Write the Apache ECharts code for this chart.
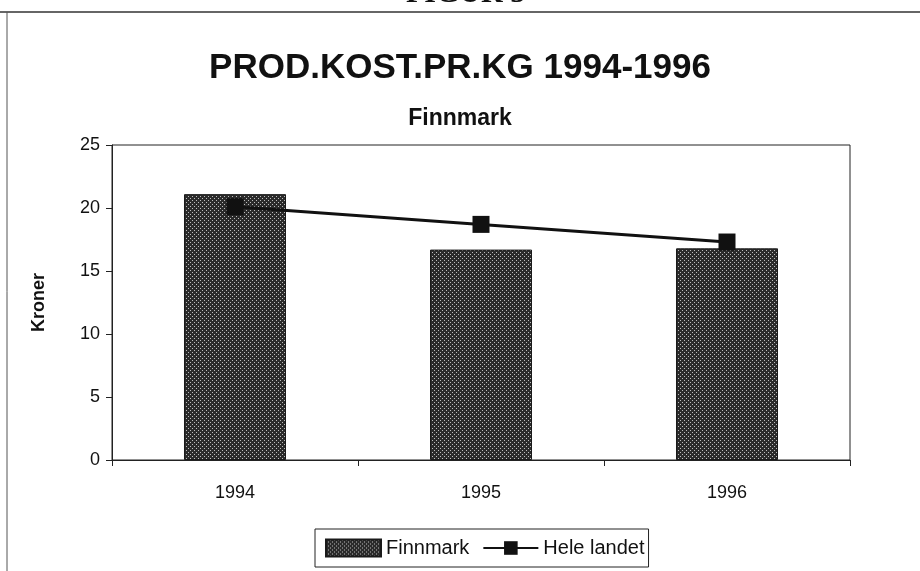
<!DOCTYPE html>
<html>
<head>
<meta charset="utf-8">
<script src="https://cdn.jsdelivr.net/npm/echarts@6/dist/echarts.min.js"></script>
<style>
  html, body { margin: 0; padding: 0; background: #fff; }
  #chart { width: 920px; height: 571px; }
</style>
</head>
<body>
<div id="chart"></div>
<script>
// data
var years = ["1994", "1995", "1996"];
var finnmark = [21.1, 16.7, 16.8];
var heleLandet = [20.1, 18.7, 17.3];
var yTicks = [0, 5, 10, 15, 20, 25];

// dotted dark fill like the scanned bars
function makePattern() {
  var c = document.createElement("canvas");
  c.width = 4;
  c.height = 4;
  var ctx = c.getContext("2d");
  ctx.fillStyle = "#2b2b2b";
  ctx.fillRect(0, 0, 4, 4);
  ctx.fillStyle = "#bdbdbd";
  ctx.fillRect(0, 0, 1, 1);
  ctx.fillRect(2, 2, 1, 1);
  return c;
}
var pattern = { image: makePattern(), repeat: "repeat" };

var myChart = echarts.init(document.getElementById("chart"));
var font = "Liberation Sans, Arial, sans-serif";

var option = {
  animation: false,
  backgroundColor: "#fff",
  title: [
    {
      text: "PROD.KOST.PR.KG 1994-1996",
      left: "center",
      top: 46,
      textStyle: { fontFamily: font, fontSize: 35, fontWeight: "bold", color: "#111" }
    },
    {
      text: "Finnmark",
      left: "center",
      top: 102,
      textStyle: { fontFamily: font, fontSize: 23, fontWeight: "bold", color: "#111" }
    }
  ],
  graphic: [
    {
      type: "line",
      shape: { x1: 0, y1: 12, x2: 920, y2: 12 },
      style: { stroke: "#333", lineWidth: 1.5 }
    },
    {
      type: "line",
      shape: { x1: 7, y1: 12, x2: 7, y2: 571 },
      style: { stroke: "#555", lineWidth: 1 }
    },
    {
      type: "text",
      left: 406,
      top: -21,
      style: { text: "FIGUR 5", font: "bold 30px Liberation Serif, serif", fill: "#111" }
    }
  ],
  legend: {
    data: [
      { name: "Finnmark", icon: "rect" },
      { name: "Hele landet" }
    ],
    left: 315,
    top: 529,
    itemWidth: 55,
    itemHeight: 17,
    itemGap: 13,
    padding: [9, 4, 9, 10],
    borderColor: "#222",
    borderWidth: 1,
    borderRadius: 0,
    textStyle: { fontFamily: font, fontSize: 20, color: "#111" }
  },
  grid: {
    left: 112,
    right: 70,
    top: 145,
    bottom: 111,
    show: true,
    borderColor: "#222",
    borderWidth: 1
  },
  xAxis: {
    type: "category",
    data: years,
    axisLine: { lineStyle: { color: "#222" } },
    axisTick: { show: true, alignWithLabel: false, length: 6, lineStyle: { color: "#222" } },
    axisLabel: { margin: 24, fontFamily: font, fontSize: 18, color: "#111" }
  },
  yAxis: {
    type: "value",
    min: yTicks[0],
    max: yTicks[yTicks.length - 1],
    interval: 5,
    name: "Kroner",
    nameLocation: "middle",
    nameGap: 64,
    nameTextStyle: { fontFamily: font, fontSize: 18, fontWeight: "bold", color: "#111" },
    splitLine: { show: false },
    axisLine: { show: true, lineStyle: { color: "#222" } },
    axisTick: { show: true, length: 6, lineStyle: { color: "#222" } },
    axisLabel: { margin: 12, fontFamily: font, fontSize: 18, color: "#111" }
  },
  series: [
    {
      name: "Finnmark",
      type: "bar",
      data: finnmark,
      barWidth: 102,
      itemStyle: { color: pattern, borderColor: "#1a1a1a", borderWidth: 1 }
    },
    {
      name: "Hele landet",
      type: "line",
      data: heleLandet,
      symbol: "rect",
      symbolSize: 17,
      itemStyle: { color: "#111" },
      lineStyle: { color: "#111", width: 3 }
    }
  ]
};

myChart.setOption(option);
window.addEventListener("resize", function () {
  myChart.resize();
});
</script>
</body>
</html>
